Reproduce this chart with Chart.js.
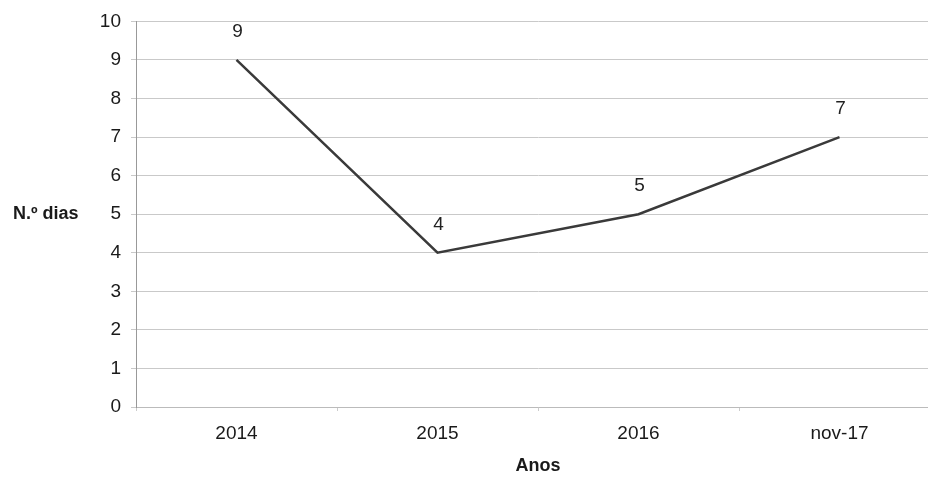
<!DOCTYPE html>
<html>
<head>
<meta charset="utf-8">
<script src="https://cdn.jsdelivr.net/npm/chart.js@4.4.1/dist/chart.umd.min.js"></script>
<style>
  html, body { margin: 0; padding: 0; background: #fff; overflow: hidden; }
  #wrap { position: absolute; left: 0; top: 0; width: 940px; height: 479px; }
</style>
</head>
<body>
<div id="wrap"><canvas id="c" width="940" height="479"></canvas></div>
<script>
// Number of days per year
const years = ['2014', '2015', '2016', 'nov-17'];
const days = [9, 4, 5, 7];
const yTicks = [0, 1, 2, 3, 4, 5, 6, 7, 8, 9, 10];
const yTitle = 'N.º dias';
const xTitle = 'Anos';

const FONT = '"Liberation Sans", Arial, sans-serif';

// Value labels above each point, plus horizontal axis titles
const annotate = {
  id: 'annotate',
  afterDatasetsDraw(chart) {
    const ctx = chart.ctx;
    const meta = chart.getDatasetMeta(0);
    ctx.save();
    ctx.fillStyle = '#222';
    ctx.font = '19px ' + FONT;
    ctx.textAlign = 'center';
    ctx.textBaseline = 'middle';
    meta.data.forEach((pt, i) => {
      ctx.fillText(String(days[i]), pt.x + 1, pt.y - 28);
    });
    ctx.font = 'bold 18px ' + FONT;
    ctx.fillStyle = '#1a1a1a';
    ctx.textAlign = 'left';
    ctx.fillText(yTitle, 13, chart.scales.y.getPixelForValue(5));
    ctx.textAlign = 'center';
    const a = chart.chartArea;
    ctx.fillText(xTitle, (a.left + a.right) / 2, 466);
    ctx.restore();
  }
};

new Chart(document.getElementById('c'), {
  type: 'line',
  data: {
    labels: years,
    datasets: [{
      data: days,
      borderColor: '#3a3a3a',
      borderWidth: 2.5,
      pointRadius: 0,
      tension: 0,
      fill: false
    }]
  },
  options: {
    responsive: false,
    animation: false,
    layout: { padding: { left: 0, right: 0, top: 19, bottom: 0 } },
    plugins: { legend: { display: false }, tooltip: { enabled: false } },
    scales: {
      x: {
        type: 'category',
        offset: true,
        afterFit(s) { s.height = 72; },
        grid: { display: true, drawOnChartArea: false, offset: true, tickLength: 4, color: '#ccc' },
        border: { display: true, color: '#bbb', width: 1 },
        ticks: { color: '#1a1a1a', font: { family: FONT, size: 19 }, padding: 11, maxRotation: 0 }
      },
      y: {
        min: 0,
        max: 10,
        afterFit(s) { s.width = 136; },
        afterBuildTicks(s) { s.ticks = yTicks.map(v => ({ value: v })); },
        grid: { color: '#c9c9c9', lineWidth: 1, tickLength: 5 },
        border: { display: true, color: '#999', width: 1 },
        ticks: { color: '#1a1a1a', font: { family: FONT, size: 19 }, padding: 10 }
      }
    }
  },
  plugins: [annotate]
});
</script>
</body>
</html>
